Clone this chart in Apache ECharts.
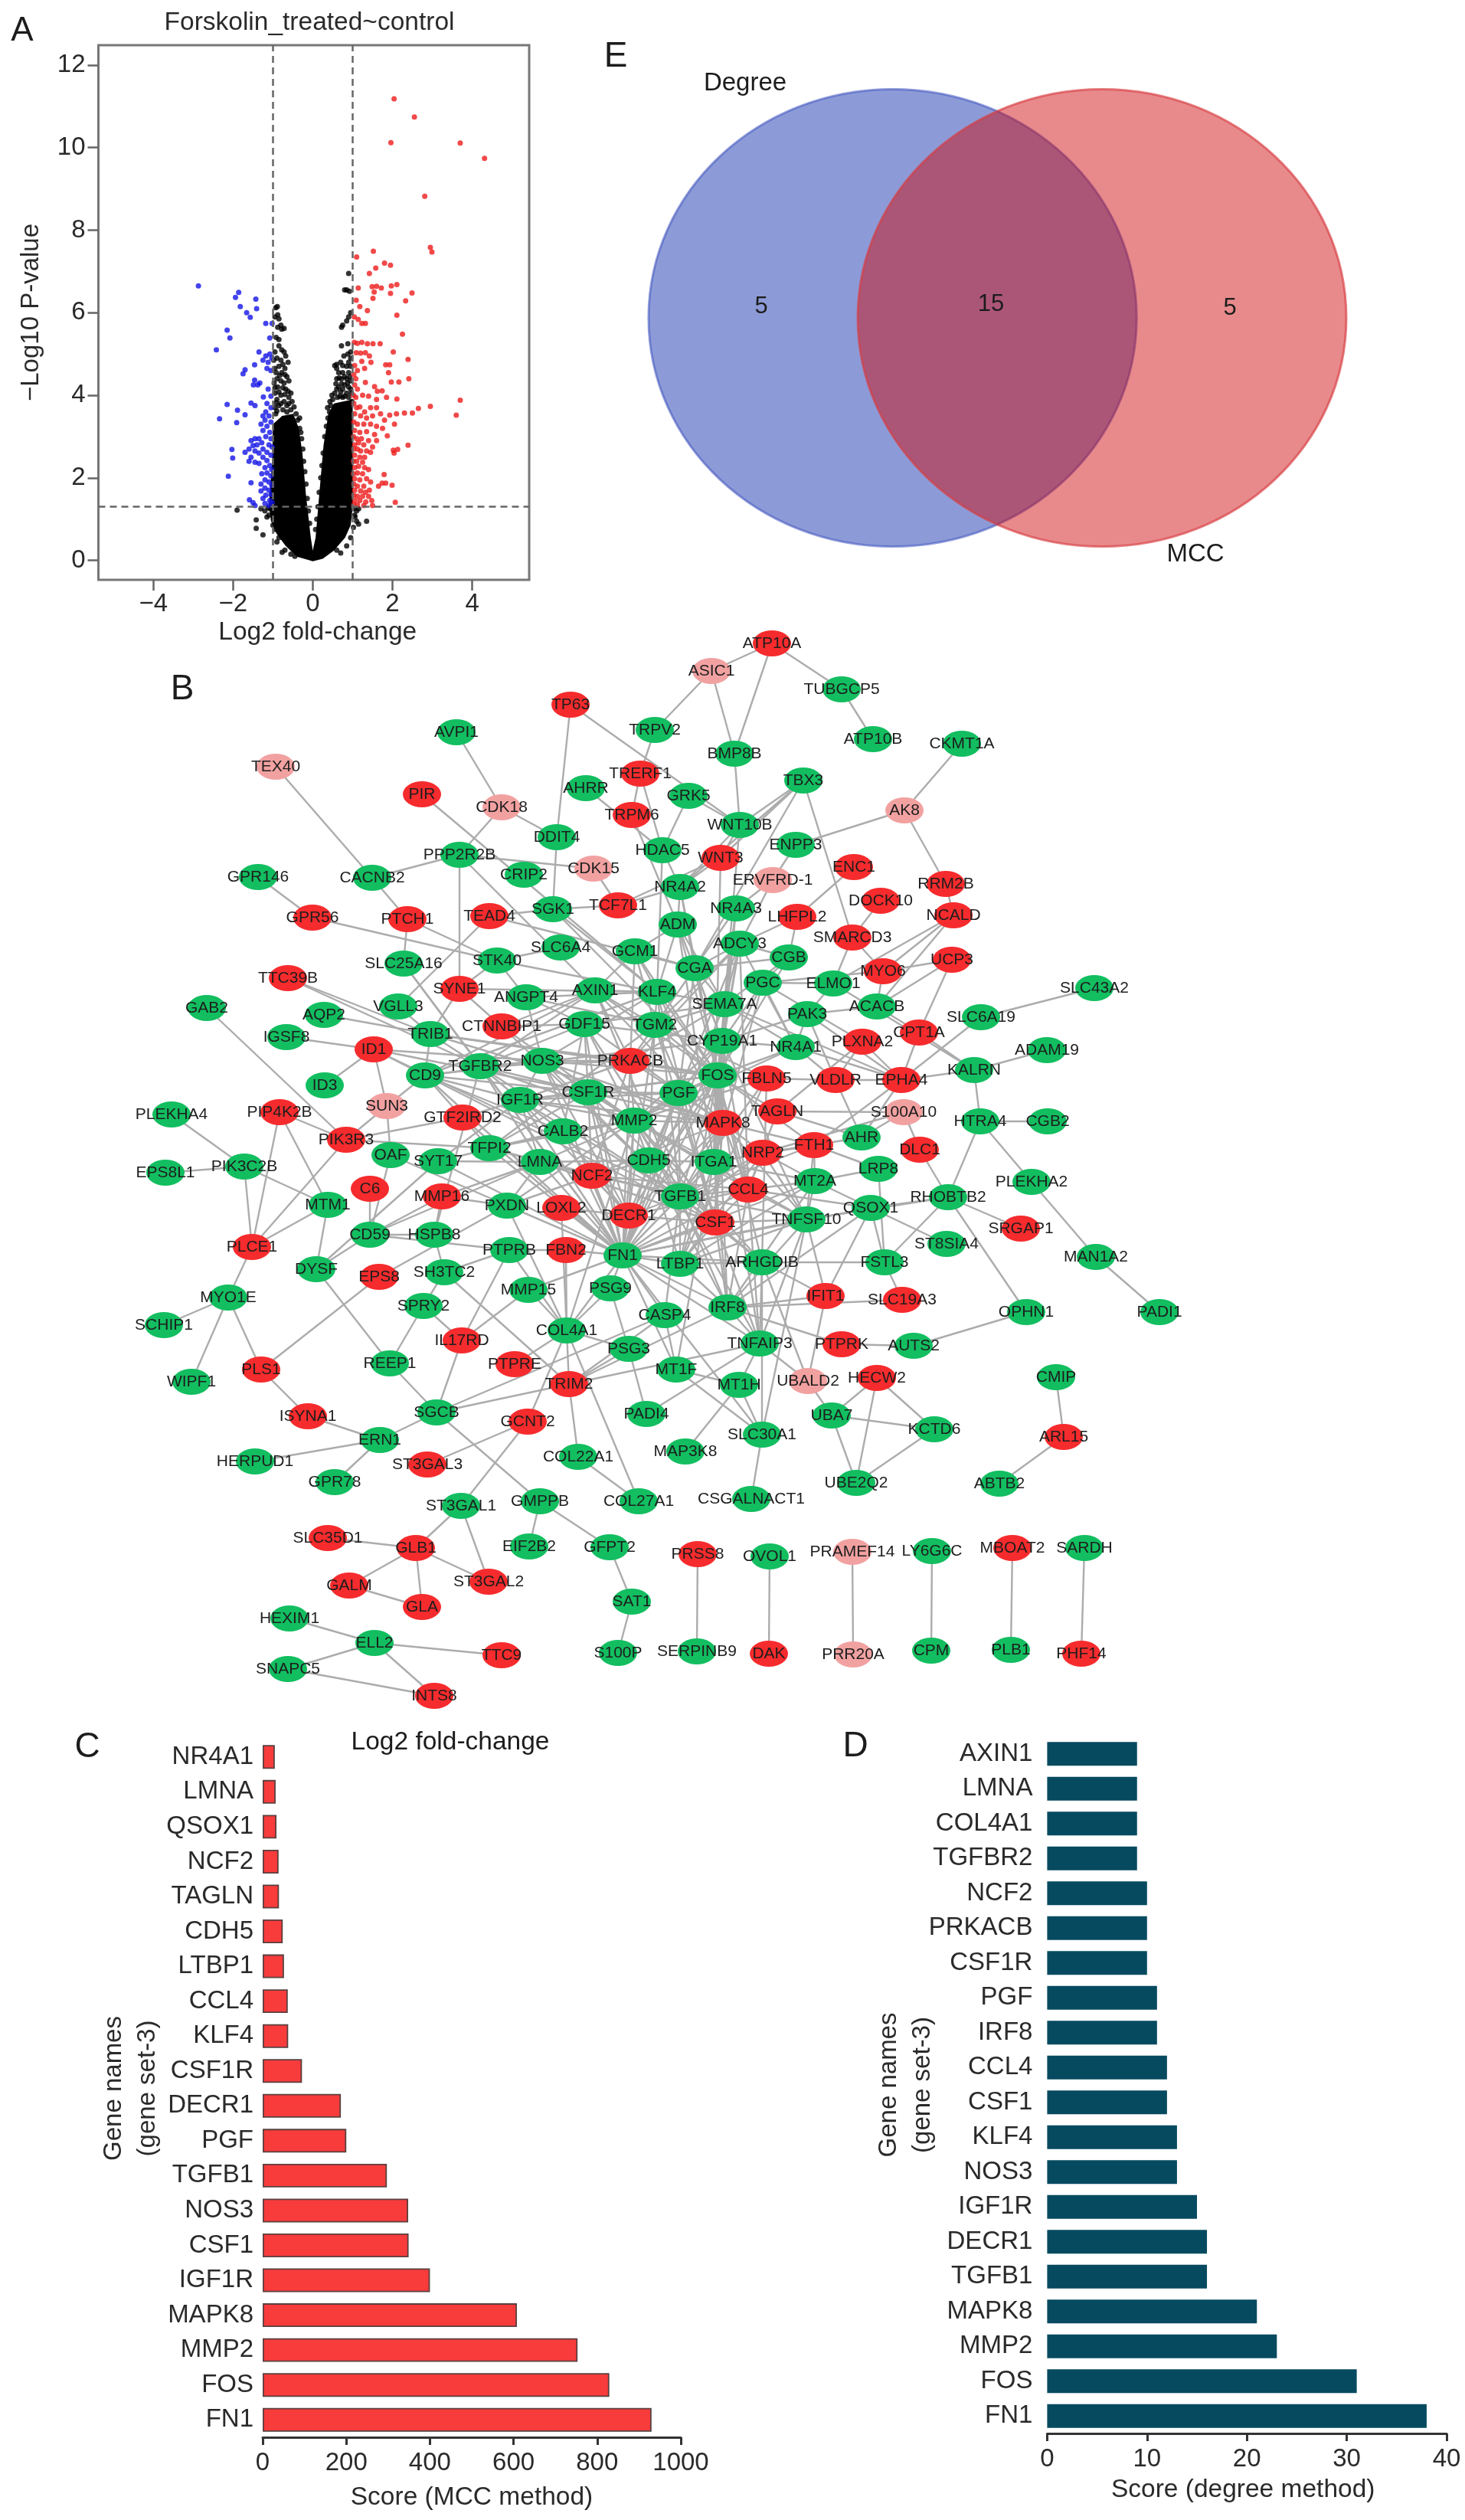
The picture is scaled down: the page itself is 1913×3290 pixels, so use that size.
<!DOCTYPE html>
<html><head><meta charset="utf-8">
<style>html,body{margin:0;padding:0;background:#fff}#c{width:1913px;height:3290px}</style>
<script src="https://cdn.jsdelivr.net/npm/echarts@6/dist/echarts.min.js"></script></head>
<body><div id="c"></div>
<script>
// ---------- Panel A: volcano plot ----------
const volcanoTitle = 'Forskolin_treated~control';
const foldCut = 1, pCut = 1.3;
const redPoints = [[2.04,11.18],[2.55,10.74],[1.96,10.12],[3.70,10.11],[4.31,9.74],[2.81,8.82],[2.95,7.58],[2.99,7.47],[1.52,7.49],[1.10,7.35],[1.58,7.08],[1.80,7.2],[1.95,7.15],[1.42,6.95],[1.14,6.6],[1.49,6.63],[1.6,6.64],[1.72,6.6],[1.54,6.5],[1.97,6.65],[2.11,6.68],[1.95,6.47],[2.49,6.48],[2.33,6.29],[1.51,6.35],[1.09,6.3],[1.18,6.15],[1.37,6.05],[2.11,5.94],[1.04,5.9],[1.14,5.84],[1.32,5.74],[1.23,5.74],[2.25,5.48],[1.04,5.28],[1.12,5.26],[1.23,5.28],[1.37,5.25],[1.51,5.25],[1.69,5.25],[1.09,5.03],[1.2,5.02],[1.32,5.03],[1.42,4.95],[2.02,5.05],[2.39,4.87],[1.23,4.82],[1.46,4.8],[1.83,4.74],[1.93,4.74],[1.05,4.72],[1.12,4.6],[1.3,4.65],[1.9,4.55],[1.03,4.5],[1.08,4.4],[2.41,4.4],[1.97,4.32],[2.16,4.32],[1.32,4.31],[1.05,4.25],[1.12,4.15],[1.55,4.21],[1.62,4.1],[1.74,4.11],[1.02,4.0],[1.08,3.95],[1.25,4.0],[1.4,3.98],[1.6,3.9],[1.85,3.95],[2.11,3.91],[3.70,3.88],[2.95,3.73],[3.6,3.52],[2.65,3.68],[2.50,3.57],[2.30,3.57],[2.10,3.55],[1.93,3.52],[1.03,3.8],[1.1,3.7],[1.18,3.72],[1.3,3.6],[1.45,3.7],[1.6,3.7],[1.05,3.55],[1.2,3.5],[1.35,3.45],[1.5,3.5],[1.7,3.55],[1.8,3.4],[1.03,3.35],[1.12,3.3],[1.28,3.3],[1.45,3.3],[1.6,3.25],[1.75,3.2],[2.05,3.3],[1.05,3.15],[1.18,3.1],[1.35,3.12],[1.55,3.05],[1.87,3.02],[1.02,3.0],[1.1,2.95],[1.22,2.95],[1.4,2.9],[1.6,2.9],[1.05,2.8],[1.15,2.85],[1.28,2.8],[1.5,2.75],[2.39,2.79],[1.03,2.7],[1.12,2.7],[1.2,2.65],[1.35,2.65],[1.45,2.62],[2.02,2.67],[2.13,2.69],[2.04,2.6],[1.05,2.55],[1.18,2.5],[1.3,2.5],[1.02,2.4],[1.1,2.4],[1.25,2.38],[1.05,2.25],[1.15,2.28],[1.3,2.25],[1.4,2.2],[1.02,2.1],[1.12,2.12],[1.25,2.1],[1.79,2.08],[1.05,1.98],[1.18,1.95],[1.35,1.98],[1.45,1.9],[1.74,1.87],[1.65,1.8],[1.83,1.87],[1.99,1.82],[1.03,1.85],[1.12,1.8],[1.28,1.8],[1.05,1.7],[1.2,1.68],[1.32,1.65],[1.42,1.7],[1.03,1.58],[1.12,1.55],[1.25,1.55],[1.4,1.55],[1.05,1.45],[1.18,1.45],[1.33,1.42],[1.48,1.45],[2.07,1.41],[1.03,1.35],[1.12,1.35],[1.28,1.33],[1.5,1.33]];
const bluePoints = [[-2.87,6.65],[-1.86,6.49],[-1.94,6.37],[-1.43,6.33],[-1.82,6.15],[-1.41,6.1],[-1.66,6.0],[-1.57,5.89],[-1.18,5.74],[-1.02,5.74],[-2.15,5.58],[-2.08,5.39],[-1.08,5.39],[-2.42,5.1],[-1.35,5.05],[-1.18,4.95],[-1.08,5.0],[-1.03,4.9],[-1.25,4.85],[-1.46,4.74],[-1.12,4.8],[-1.70,4.62],[-1.75,4.52],[-1.05,4.6],[-1.15,4.65],[-1.46,4.37],[-1.33,4.3],[-1.49,4.25],[-1.12,4.15],[-1.38,4.25],[-1.24,3.96],[-1.05,3.98],[-1.55,3.81],[-1.45,3.75],[-2.15,3.78],[-1.15,3.8],[-1.89,3.64],[-1.05,3.7],[-1.70,3.53],[-1.18,3.6],[-2.34,3.43],[-1.91,3.34],[-1.25,3.5],[-1.1,3.5],[-1.2,3.4],[-1.05,3.35],[-1.3,3.3],[-1.15,3.25],[-1.25,3.15],[-1.08,3.1],[-1.18,3.0],[-1.05,2.95],[-1.45,2.95],[-1.55,2.9],[-1.35,2.95],[-1.28,2.85],[-1.4,2.8],[-1.5,2.78],[-1.1,2.8],[-1.02,2.75],[-1.6,2.7],[-2.03,2.69],[-1.25,2.7],[-1.45,2.65],[-1.7,2.62],[-1.15,2.62],[-1.35,2.6],[-1.05,2.55],[-2.01,2.48],[-1.55,2.5],[-1.25,2.5],[-1.15,2.42],[-1.45,2.38],[-1.6,2.4],[-1.35,2.35],[-1.08,2.3],[-1.2,2.25],[-1.03,2.2],[-1.15,2.12],[-2.12,2.04],[-1.28,2.1],[-1.05,2.05],[-1.2,1.95],[-1.1,1.9],[-1.55,1.88],[-1.3,1.85],[-1.03,1.82],[-1.2,1.75],[-1.1,1.7],[-1.3,1.68],[-1.05,1.6],[-1.18,1.58],[-1.25,1.5],[-1.59,1.47],[-1.08,1.45],[-1.5,1.4],[-1.2,1.38],[-1.45,1.33],[-1.1,1.33],[-1.02,1.4]];
const blackPoints = [[-.89,6.15],[-.93,6.12],[-.88,5.95],[-.95,5.9],[-.85,5.85],[-.8,5.7],[-.72,5.62],[-.78,5.6],[-.88,5.65],[-.92,5.4],[-.85,5.35],[-.85,5.2],[-.78,5.1],[-.72,5.05],[-.95,5.05],[-.68,4.95],[-.62,4.8],[-.9,4.9],[-.8,4.85],[-.7,4.65],[-.95,4.65],[-.85,4.7],[-.78,4.55],[-.65,4.45],[-.9,4.4],[-.8,4.35],[-.72,4.3],[-.6,4.35],[-.97,4.3],[-.88,4.2],[-.68,4.15],[-.55,4.05],[-.95,4.05],[-.8,4.0],[-.6,3.95],[-.9,3.9],[-.72,3.85],[-.52,3.85],[-.85,3.75],[-.65,3.75],[-.95,3.7],[-.75,3.65],[-.55,3.65],[-.42,3.55],[-.93,3.55],[-.38,3.4],[-.33,3.2],[.9,6.95],[.85,6.55],[.8,6.55],[.92,6.52],[.95,6.0],[.9,5.9],[.85,5.8],[.72,5.65],[.75,5.7],[.88,5.25],[.72,5.2],[.95,5.05],[.88,5.0],[.78,4.95],[.95,4.9],[.7,4.8],[.55,4.72],[.6,4.65],[.85,4.7],[.95,4.7],[.65,4.55],[.75,4.55],[.9,4.55],[.6,4.4],[.72,4.4],[.85,4.4],[.95,4.35],[.65,4.2],[.8,4.25],[.9,4.2],[.55,4.05],[.7,4.08],[.85,4.05],[.97,4.05],[.5,3.9],[.62,3.95],[.75,3.95],[.9,3.95],[.45,3.75],[.55,3.7],[.42,3.6],[-1.9,1.22],[-1.42,.98],[-1.42,.78],[-1.25,.62],[-.77,.2],[.6,.25],[1.1,.95],[1.15,.88],[1.35,.95],[1.1,1.2],[1.15,1.25],[-1.3,1.25],[-1.2,1.2],[-1.1,1.1],[-1.15,1.05],[-1.0,.85],[-.95,.75],[-.85,.55],[-.9,.45],[-.7,.25],[-.55,.15],[.85,.35],[.95,.55],[1.02,.8],[.7,.18],[1.05,1.1],[-.45,.1],
[-.98,4.85],[-.75,4.75],[-.92,4.55],[-.83,4.48],[-.7,4.5],[-.95,4.18],[-.75,4.18],[-.62,4.1],[-.85,4.08],[-.7,4.02],[-.92,3.82],[-.8,3.8],[-.6,3.8],[-.47,3.72],[-.9,3.62],[-.65,3.6],[-.33,3.45],[-.3,3.1],[-.28,2.95],[-.25,2.7],[-.23,2.4],[-.2,2.15],[-.17,1.85],[-.14,1.5],[-.11,1.2],[-.08,.9],
[.6,4.75],[.75,4.72],[.9,4.8],[.66,4.42],[.8,4.45],[.93,4.45],[.58,4.28],[.72,4.28],[.87,4.3],[.6,4.15],[.75,4.15],[.95,4.15],[.48,4.0],[.68,3.98],[.8,3.98],[.43,3.85],[.98,3.85],[.38,3.45],[.34,3.25],[.3,3.0],[.26,2.6],[.23,2.3],[.2,2.0],[.16,1.65],[.13,1.3],[.1,1.0],[.07,.75],[.37,3.7],[-1.07,1.25],[-1.12,1.28],[1.03,1.25],[1.06,1.05]];
const blackMassOutline = [[0,-.02],[-.40,.09],[-.68,.35],[-.91,.65],[-1.05,.96],[-1.10,1.36],[-1.02,2.38],[-1.0,3.3],[-.77,3.5],[-.49,3.55],[-.35,3.2],[-.26,2.59],[-.17,1.57],[-.05,.55],[0,.24],[.07,.55],[.16,1.57],[.27,2.79],[.39,3.55],[.53,3.8],[1.0,3.9],[1.01,1.36],[.95,.85],[.81,.55],[.53,.24],[.25,.04]];

// ---------- Panel C ----------
const mccGenes = ['NR4A1','LMNA','QSOX1','NCF2','TAGLN','CDH5','LTBP1','CCL4','KLF4','CSF1R','DECR1','PGF','TGFB1','NOS3','CSF1','IGF1R','MAPK8','MMP2','FOS','FN1'];
const mccScores = [29,31,33,38,39,48,51,60,61,94,187,200,297,348,349,400,608,753,829,930];
// ---------- Panel D ----------
const degreeGenes = ['AXIN1','LMNA','COL4A1','TGFBR2','NCF2','PRKACB','CSF1R','PGF','IRF8','CCL4','CSF1','KLF4','NOS3','IGF1R','DECR1','TGFB1','MAPK8','MMP2','FOS','FN1'];
const degreeScores = [9,9,9,9,10,10,10,11,11,12,12,13,13,15,16,16,21,23,31,38];
// ---------- Panel E ----------
const vennCounts = [5,15,5];
const vennSets = ['Degree','MCC'];

// ---------- Panel B: network (name, regulation, layout x, layout y) ----------
const networkNodes = [
['TP63','r',745,920],['ASIC1','p',929,876],['AVPI1','g',596,956],['TRPV2','g',855,953],['BMP8B','g',959,984],['TEX40','p',360,1001],['TRERF1','r',836,1010],['AHRR','g',765,1029],['GRK5','g',899,1039],['PIR','r',551,1037],['CDK18','p',655,1054],['TRPM6','r',825,1064],['WNT10B','g',966,1077],['DDIT4','g',727,1093],['HDAC5','g',865,1110],['PPP2R2B','g',600,1116],['WNT3','r',941,1120],['CDK15','p',775,1134],['CRIP2','g',684,1142],['GPR146','g',337,1145],['CACNB2','g',486,1146],['NR4A2','g',888,1158],['ERVFRD-1','p',1009,1149],['NR4A3','g',961,1186],['SGK1','g',722,1187],['TCF7L1','r',807,1182],['TEAD4','r',639,1196],['PTCH1','r',532,1200],['GPR56','r',408,1198],['ADM','g',885,1207],['ADCY3','g',966,1232],['SLC6A4','g',732,1237],['GCM1','g',829,1242],['STK40','g',649,1254],['SLC25A16','g',527,1258],['CGA','g',907,1264],['TTC39B','r',376,1277],['SYNE1','r',600,1291],['ANGPT4','g',687,1302],['AXIN1','g',777,1293],['KLF4','g',858,1295],['GAB2','g',270,1316],['AQP2','g',423,1325],['VGLL3','g',520,1314],['TRIB1','g',562,1350],['CTNNBIP1','r',655,1340],['GDF15','g',763,1337],['TGM2','g',855,1338],['IGSF8','g',374,1354],['ID1','r',488,1370],['NOS3','g',708,1385],['TGFBR2','g',627,1392],['CD9','g',555,1404],['PRKACB','r',823,1385],['CSF1R','g',768,1426],['IGF1R','g',679,1436],['ID3','g',424,1417],['SUN3','p',505,1444],['GTF2IRD2','r',604,1459],['PLEKHA4','g',224,1455],['PIP4K2B','r',365,1452],['PIK3R3','r',452,1488],['OAF','g',510,1508],['TFPI2','g',639,1499],['CALB2','g',735,1477],['MMP2','g',828,1463],['SYT17','g',572,1516],['LMNA','g',705,1517],['CDH5','g',847,1515],['NCF2','r',773,1535],['PIK3C2B','g',319,1523],['EPS8L1','g',216,1531],['C6','r',483,1552],['MTM1','g',428,1573],['MMP16','r',577,1562],['PXDN','g',662,1574],['LOXL2','r',733,1577],['DECR1','r',821,1587],['CD59','g',483,1612],['HSPB8','g',567,1612],['PLCE1','r',329,1628],['PTPRB','g',665,1632],['FBN2','r',739,1632],['FN1','g',813,1639],['LTBP1','g',888,1650],['ARHGDIB','g',995,1648],['FSTL3','g',1155,1648],['DYSF','g',413,1657],['EPS8','r',495,1667],['SH3TC2','g',580,1661],['MMP15','g',690,1684],['PSG9','g',797,1682],['MYO1E','g',298,1694],['SPRY2','g',553,1705],['CASP4','g',868,1717],['IRF8','g',950,1707],['IFIT1','r',1078,1692],['SLC19A3','r',1178,1697],['SCHIP1','g',214,1730],['COL4A1','g',740,1737],['IL17RD','r',603,1750],['PSG3','g',821,1761],['TNFAIP3','g',992,1754],['PTPRK','r',1099,1755],['AUTS2','g',1193,1757],['REEP1','g',509,1780],['PTPRE','r',672,1781],['MT1F','g',883,1788],['MT1H','g',965,1808],['UBALD2','p',1055,1803],['HECW2','r',1145,1799],['WIPF1','g',250,1804],['PLS1','r',341,1788],['TRIM2','r',743,1807],['SGCB','g',570,1844],['PADI4','g',844,1846],['GCNT2','r',689,1856],['ISYNA1','r',402,1849],['UBA7','g',1086,1848],['SLC30A1','g',995,1873],['KCTD6','g',1220,1866],['ERN1','g',496,1880],['MAP3K8','g',895,1895],['HERPUD1','g',333,1908],['ST3GAL3','r',558,1912],['COL22A1','g',755,1902],['GPR78','g',437,1935],['UBE2Q2','g',1118,1936],['ABTB2','g',1305,1937],['COL27A1','g',834,1960],['GMPPB','g',705,1960],['ST3GAL1','g',602,1966],['CSGALNACT1','g',981,1957],['ARL15','r',1389,1876],['CMIP','g',1379,1798],['OPHN1','g',1340,1713],['PADI1','g',1514,1713],['MAN1A2','g',1431,1641],['SRGAP1','r',1333,1604],['PLEKHA2','g',1347,1543],['ST8SIA4','g',1236,1624],['RHOBTB2','g',1238,1563],['QSOX1','g',1137,1577],['TNFSF10','g',1053,1592],['MT2A','g',1064,1542],['LRP8','g',1147,1526],['DLC1','r',1201,1501],['AHR','g',1125,1485],['FTH1','r',1063,1495],['NRP2','r',996,1505],['ITGA1','g',932,1517],['TGFB1','g',888,1562],['CCL4','r',977,1553],['CSF1','r',934,1596],['MAPK8','r',944,1466],['PGF','g',886,1427],['FOS','g',937,1404],['FBLN5','r',1001,1408],['VLDLR','r',1091,1410],['EPHA4','r',1177,1410],['TAGLN','r',1015,1451],['S100A10','p',1180,1452],['NR4A1','g',1039,1367],['PLXNA2','r',1126,1360],['CPT1A','r',1200,1348],['CYP19A1','g',943,1359],['SEMA7A','g',946,1311],['PAK3','g',1054,1324],['ACACB','g',1145,1314],['PGC','g',996,1283],['ELMO1','g',1088,1284],['CGB','g',1030,1250],['MYO6','r',1153,1268],['UCP3','r',1243,1253],['SMARCD3','r',1113,1224],['NCALD','r',1245,1195],['LHFPL2','r',1041,1197],['DOCK10','r',1150,1176],['ENC1','r',1115,1132],['RRM2B','r',1235,1154],['ENPP3','g',1039,1103],['AK8','p',1181,1058],['TBX3','g',1049,1019],['ATP10B','g',1140,965],['CKMT1A','g',1256,971],['TUBGCP5','g',1099,900],['ATP10A','r',1008,840],['SLC43A2','g',1429,1290],['SLC6A19','g',1281,1328],['ADAM19','g',1367,1371],['KALRN','g',1272,1397],['HTRA4','g',1280,1464],['CGB2','g',1368,1464],['SLC35D1','r',428,2008],['GLB1','r',543,2021],['EIF2B2','g',691,2019],['GFPT2','g',796,2020],['PRSS8','r',911,2029],['ST3GAL2','r',638,2065],['GALM','r',456,2070],['GLA','r',551,2098],['SAT1','g',825,2091],['HEXIM1','g',378,2113],['ELL2','g',489,2145],['TTC9','r',655,2161],['S100P','g',807,2158],['SERPINB9','g',910,2156],['SNAPC5','g',376,2179],['INTS8','r',567,2214],['OVOL1','g',1005,2032],['PRAMEF14','p',1113,2026],['LY6G6C','g',1217,2025],['MBOAT2','r',1322,2021],['SARDH','g',1416,2021],['DAK','r',1004,2159],['PRR20A','p',1114,2160],['CPM','g',1216,2155],['PLB1','g',1320,2154],['PHF14','r',1412,2159]];
// adjacency: each gene with the genes its lines run to
const networkEdges = [
['TEX40','CACNB2'],['TP63','DDIT4 WNT10B'],['ASIC1','TRPV2 BMP8B ATP10A'],['TRPV2','TRERF1'],['ATP10A','BMP8B TUBGCP5'],['TUBGCP5','ATP10B'],['CKMT1A','AK8'],['AK8','ENPP3 RRM2B'],['RRM2B','NCALD'],['BMP8B','WNT10B'],['AVPI1','CDK18'],['CDK18','PPP2R2B DDIT4'],['DDIT4','SGK1'],['PIR','KLF4'],['PPP2R2B','CACNB2 CDK15 SYNE1 AXIN1'],['CDK15','TCF7L1'],['GPR146','GPR56'],['GPR56','STK40'],['CACNB2','PTCH1'],['PTCH1','SLC25A16 STK40'],['TEAD4','VGLL3 SGK1 CGA'],['SGK1','TCF7L1 KLF4 FOS'],['STK40','SLC6A4 SYNE1 KLF4'],['AHRR','HDAC5'],['TRERF1','TRPM6 HDAC5'],['GRK5','HDAC5 WNT10B'],['TRPM6','ADM'],['HDAC5','NR4A2 KLF4'],['WNT10B','NR4A2 WNT3 TBX3 SEMA7A'],['WNT3','NR4A2 TCF7L1 TBX3 ITGA1'],['NR4A2','TBX3 TCF7L1 FOS ADM'],['TBX3','SMARCD3 CGA'],['ENPP3','ERVFRD-1'],['ERVFRD-1','NR4A3 ADCY3'],['ENC1','LHFPL2'],['LHFPL2','CGB ADCY3'],['DOCK10','SMARCD3'],['SMARCD3','ELMO1 MYO6'],['NCALD','ELMO1 MYO6 ACACB'],['MYO6','UCP3 PGC ACACB'],['UCP3','CPT1A ACACB'],['CGB','ADCY3 CGA PGC FOS'],['ACACB','CPT1A PAK3'],['ELMO1','PAK3 PGC KALRN'],['PLXNA2','VLDLR EPHA4 PGC TAGLN'],['CPT1A','EPHA4 KALRN'],['SLC43A2','SLC6A19'],['SLC6A19','EPHA4'],['KALRN','ADAM19 EPHA4 HTRA4'],['HTRA4','CGB2 RHOBTB2 PLEKHA2'],['PLEKHA2','MAN1A2'],['MAN1A2','PADI1'],['RHOBTB2','OPHN1 SRGAP1 DLC1 QSOX1 FSTL3 TNFSF10'],['OPHN1','AUTS2'],['AUTS2','PTPRK'],['CMIP','ARL15'],['ARL15','ABTB2'],['HECW2','UBA7 UBE2Q2 KCTD6'],['UBA7','KCTD6 UBE2Q2'],['KCTD6','UBE2Q2'],['UBALD2','UBA7 IFIT1 TNFAIP3 ARHGDIB'],['SLC30A1','CSGALNACT1 ARHGDIB TNFSF10'],['MT1F','MT1H SLC30A1 ITGA1'],['MT1H','SLC30A1 MAP3K8 TNFAIP3'],['TNFAIP3','IRF8 ARHGDIB TNFSF10 CCL4 CSF1 FOS MMP2 PADI4 SGCB'],['IFIT1','IRF8 QSOX1 ARHGDIB TNFSF10'],['SLC19A3','IRF8 FSTL3'],['PTPRK','IRF8'],['ARHGDIB','FSTL3 FOS MMP2 TGFB1 FN1'],['ST8SIA4','QSOX1'],['QSOX1','FSTL3 MT2A CCL4 IRF8'],['LRP8','FSTL3 FTH1 MT2A'],['AHR','FTH1 VLDLR EPHA4 S100A10 TAGLN'],['S100A10','DLC1 NRP2'],['TAGLN','S100A10 FOS CCL4'],['VLDLR','FBLN5 NR4A1 EPHA4'],['EPHA4','NR4A1 PAK3 SEMA7A FTH1'],['FTH1','MT2A NRP2 MAPK8'],['NR4A1','FOS MMP2 PAK3 SEMA7A CYP19A1'],['PAK3','CYP19A1 VLDLR'],['GAB2','PIK3R3'],['ID1','IGSF8 ID3 SUN3 CD9 NOS3 CSF1R TGFB1'],['AQP2','TRIB1'],['VGLL3','TRIB1'],['SYNE1','TRIB1 CTNNBIP1 KLF4'],['TRIB1','CD9 MAPK8 PRKACB FOS TGFBR2'],['SLC25A16','TGFBR2 FN1'],['TTC39B','TGFBR2 TRIB1'],['CTNNBIP1','AXIN1 TGFB1'],['SUN3','PIK3R3 CD9 OAF'],['PLEKHA4','PIK3C2B'],['EPS8L1','PIK3C2B'],['PIP4K2B','PIK3R3 PLCE1 MTM1'],['PIK3C2B','MTM1 PLCE1'],['PIK3R3','PLCE1 GTF2IRD2 TFPI2'],['MTM1','DYSF PLCE1'],['PLCE1','MYO1E'],['MYO1E','SCHIP1 WIPF1 PLS1'],['PLS1','EPS8 ISYNA1'],['ISYNA1','ERN1'],['ERN1','SGCB HERPUD1 GPR78'],['DYSF','CD59 REEP1 SYT17'],['REEP1','SGCB SPRY2'],['SPRY2','IL17RD SH3TC2'],['IL17RD','SGCB PTPRB MMP15'],['SH3TC2','HSPB8 TRIM2 PTPRB'],['EPS8','PXDN'],['C6','CD59'],['OAF','CD59 FN1'],['CD59','MMP16 HSPB8 LMNA PTPRB'],['MMP16','HSPB8 PXDN LMNA'],['HSPB8','TGFBR2'],['PTPRB','FBN2 COL4A1'],['FBN2','FN1 COL4A1'],['PXDN','COL4A1 FN1 MMP2'],['LOXL2','COL4A1 FN1'],['MMP15','FN1 COL4A1'],['PSG9','COL4A1 FN1 PSG3'],['PSG3','TRIM2 COL4A1 PADI4'],['PTPRE','COL4A1'],['COL4A1','TRIM2 GCNT2 COL27A1 FN1 MMP2'],['TRIM2','COL22A1 CASP4 PSG3 IRF8'],['COL22A1','COL27A1'],['SGCB','CASP4 GMPPB'],['GCNT2','ST3GAL3 ST3GAL1'],['GMPPB','EIF2B2 GFPT2'],['ST3GAL1','GLB1 ST3GAL2'],['SLC35D1','GLB1'],['GLB1','ST3GAL2 GALM GLA'],['GALM','GLA'],['GFPT2','SAT1'],['SAT1','S100P'],['PRSS8','SERPINB9'],['OVOL1','DAK'],['PRAMEF14','PRR20A'],['LY6G6C','CPM'],['MBOAT2','PLB1'],['SARDH','PHF14'],['HEXIM1','ELL2'],['ELL2','SNAPC5 TTC9 INTS8'],['SNAPC5','INTS8'],['PADI4','TNFAIP3'],['CASP4','FN1 MT1F TGFB1'],
['FN1','FOS MMP2 MAPK8 TGFB1 DECR1 IGF1R NOS3 CSF1 CCL4 IRF8 PGF CSF1R NCF2 TGFBR2 LMNA CDH5 LTBP1 ITGA1 CALB2 TNFSF10 QSOX1 PRKACB CYP19A1 SEMA7A TGM2 GDF15 TFPI2 MT1F SLC30A1 MT2A NRP2 TNFAIP3 GTF2IRD2 SYT17 CD9'],
['FOS','MMP2 MAPK8 TGFB1 DECR1 IGF1R NOS3 KLF4 CSF1 CCL4 IRF8 PGF CSF1R PRKACB CGA ADCY3 NR4A3 AXIN1 TGM2 ITGA1 CDH5 CYP19A1 SEMA7A ADM GCM1 TRIB1 LTBP1 PGC'],
['MMP2','MAPK8 TGFB1 DECR1 IGF1R NOS3 CSF1 PGF CSF1R TGFBR2 ITGA1 CDH5 LMNA TNFSF10 CALB2 PRKACB FBLN5 CCL4 CYP19A1 TFPI2 GDF15'],
['MAPK8','IGF1R DECR1 TGFB1 NOS3 KLF4 AXIN1 PRKACB CCL4 CSF1 TNFSF10 NCF2 GDF15 CSF1R ITGA1 NRP2 SEMA7A'],
['TGFB1','DECR1 IGF1R NOS3 TGFBR2 LTBP1 CCL4 CSF1 LMNA KLF4 AXIN1 ITGA1 IRF8 PGF TFPI2'],
['DECR1','IGF1R NOS3 CSF1 CCL4 CALB2 PGF NCF2 CSF1R LOXL2'],
['IGF1R','NOS3 CSF1R TGFBR2 GTF2IRD2 LMNA CD9 PGF CALB2 PRKACB'],
['NOS3','KLF4 CSF1R TGFBR2 ANGPT4 CD9 PRKACB'],
['KLF4','CD9 ADM SEMA7A TGM2 GCM1 AXIN1 ANGPT4 CSF1'],
['CSF1','CCL4 IRF8 CSF1R TNFSF10 PGF LTBP1 LMNA'],
['CCL4','TNFSF10 NCF2 IRF8 MT2A ITGA1 NRP2'],
['IRF8','TNFSF10 ITGA1 LTBP1 CDH5 MT2A'],
['PGF','CGA CSF1R CDH5 ADCY3 CYP19A1'],
['CSF1R','TGFBR2 NCF2 GDF15 CD9'],
['PRKACB','TGFBR2 AXIN1 ADCY3 CGA GCM1 SEMA7A NCF2'],
['NCF2','LMNA CDH5 TNFSF10 PXDN'],
['TGFBR2','LMNA AXIN1 GDF15'],
['AXIN1','CD9 TGM2 GCM1'],
['LMNA','PXDN TFPI2 CDH5 SYT17'],
['CGA','ADCY3 GCM1 NR4A3 NR4A2 SEMA7A CYP19A1'],
['SEMA7A','TGM2 CYP19A1 ADCY3 CGB GDF15'],
['ANGPT4','STK40 GDF15 TGM2'],
['GCM1','ADM TGM2'],
['ITGA1','MT2A CDH5 LTBP1'],
['MT2A','TNFSF10 LTBP1'],
['CD9','CSF1 TFPI2 CALB2 CYP19A1'],
['CTNNBIP1','GDF15 MMP2'],
['TFPI2','CSF1R CALB2 TGM2'],
['SYT17','CALB2 IGF1R'],
['GDF15','CALB2 CYP19A1 CSF1'],
['TGM2','CSF1 CDH5 ITGA1 FBLN5'],
['ADCY3','CYP19A1 TGM2 NR4A1 CCL4'],
['ADM','CYP19A1 ITGA1 SEMA7A'],
['CYP19A1','CSF1 ITGA1 CCL4 TNFSF10'],
['FBLN5','LTBP1 ARHGDIB TGFB1'],
['PGC','CYP19A1 ITGA1 NR4A1'],
['NR4A3','SEMA7A ITGA1'],
['CSF1','ARHGDIB TNFSF10 LMNA'],
['LTBP1','ARHGDIB TNFSF10 CDH5'],
['FTH1','FOS TNFSF10 ITGA1 TGFB1'],
['NRP2','TGFB1 MT2A TNFSF10 LTBP1']];

const PALETTE = {r:'#F62B2D', g:'#12BE60', p:'#F2A1A1'};
const FONT = '"Liberation Sans", Arial, sans-serif';
const nodeNames = new Set(networkNodes.map(n => n[0]));
const graphNodes = networkNodes.map(n => ({name:n[0], value:[n[2], n[3]], itemStyle:{color:PALETTE[n[1]]}}));
const graphLinks = [];
const seenLinks = new Set();
networkEdges.forEach(([a, list]) => list.split(' ').forEach(b => {
  const key = [a, b].sort().join('|');
  if (nodeNames.has(a) && nodeNames.has(b) && !seenLinks.has(key)) { seenLinks.add(key); graphLinks.push({source:a, target:b}); }
}));
const ELLIPSE = 'path://M0 -100A100 100 0 1 1 0 100A100 100 0 1 1 0 -100Z';

const txt = (text, x, y, size) => ({type:'text', x, y, z:50, style:{text, font:size+'px '+FONT, fill:'#1c1c1c', align:'center', verticalAlign:'middle'}});

function barPanel(gridIndex, max, interval, genes, nameText, labelMargin, nameGapX, nameGapY, namePadding){
  return {
    x:{type:'value', gridIndex, min:0, max, interval, name:nameText, nameLocation:'middle', nameGap:nameGapX, nameMoveOverlap:false,
       nameTextStyle:{color:'#2a2a2a', fontSize:33.5, fontFamily:FONT, padding:namePadding},
       axisLine:{show:true, onZero:false, lineStyle:{color:'#333', width:3}},
       axisTick:{show:true, length:10, lineStyle:{color:'#333', width:3}},
       axisLabel:{fontSize:33, fontFamily:FONT, color:'#2a2a2a', margin:17, hideOverlap:false, formatter:v => String(v)},
       splitLine:{show:false}},
    y:{type:'category', gridIndex, data:genes, inverse:true, name:'Gene names\n(gene set-3)', nameLocation:'middle', nameGap:nameGapY, nameRotate:90, nameMoveOverlap:false,
       nameTextStyle:{fontSize:33, fontFamily:FONT, color:'#2a2a2a', lineHeight:44},
       axisLine:{show:false}, axisTick:{show:false},
       axisLabel:{fontSize:33, fontFamily:FONT, color:'#2a2a2a', margin:labelMargin, interval:0}}
  };
}
const barC = barPanel(1, 1000, 200, mccGenes, 'Score (MCC method)', 12, 62, 128, [0,0,0,0]);
const barD = barPanel(2, 40, 10, degreeGenes, 'Score (degree method)', 19, 57, 140, [0,10,0,0]);

const minusFmt = v => String(v).replace('-', '\u2212');
const option = {
  animation:false,
  backgroundColor:'#fff',
  title:[{text:volcanoTitle, left:399, top:8, textAlign:'center', textStyle:{fontSize:33.5, fontWeight:'normal', fontFamily:FONT, color:'#2a2a2a'}}],
  grid:[
    {left:128.5, top:59, width:562.5, height:698, show:true, borderColor:'#777', borderWidth:3, backgroundColor:'#fff'},
    {left:343, top:2271, width:546, height:911},
    {left:1367.4, top:2267, width:521.6, height:910},
    {left:0, top:0, width:1913, height:3290}
  ],
  xAxis:[
    {type:'value', gridIndex:0, min:-5.38, max:5.43, name:'Log2 fold-change', nameLocation:'middle', nameGap:52, nameMoveOverlap:false,
     nameTextStyle:{fontSize:33.5, fontFamily:FONT, color:'#2a2a2a', padding:[0,0,0,10]},
     axisLine:{show:false, onZero:false}, splitLine:{show:false},
     axisTick:{show:true, length:14, customValues:[-4,-2,0,2,4], lineStyle:{color:'#666', width:2.5}},
     axisLabel:{fontSize:33, fontFamily:FONT, color:'#2a2a2a', margin:15, customValues:[-4,-2,0,2,4], formatter:minusFmt}},
    barC.x, barD.x,
    {type:'value', gridIndex:3, min:0, max:1913, show:false}
  ],
  yAxis:[
    {type:'value', gridIndex:0, min:-0.47, max:12.48, name:'\u2212Log10 P-value', nameLocation:'middle', nameGap:71, nameRotate:90, nameMoveOverlap:false,
     nameTextStyle:{fontSize:33, fontFamily:FONT, color:'#2a2a2a'},
     axisLine:{show:false, onZero:false}, splitLine:{show:false},
     axisTick:{show:true, length:14, customValues:[0,2,4,6,8,10,12], lineStyle:{color:'#666', width:2.5}},
     axisLabel:{fontSize:33, fontFamily:FONT, color:'#2a2a2a', margin:17, customValues:[0,2,4,6,8,10,12]}},
    barC.y, barD.y,
    {type:'value', gridIndex:3, min:0, max:3290, inverse:true, show:false}
  ],
  graphic:{elements:[
    txt('A',29,41,44), txt('E',804,74,46), txt('B',238,900,46), txt('C',114,2281,46), txt('D',1117,2280,46),
    txt(vennSets[0],973,109,33), txt(vennSets[1],1561,724,33),
    txt(String(vennCounts[0]),994,400,31), txt(String(vennCounts[1]),1294,397,31), txt(String(vennCounts[2]),1606,402,31),
    txt('Log2 fold-change',588,2275,33.5)
  ]},
  series:[
    {type:'custom', name:'overplotted black mass', xAxisIndex:0, yAxisIndex:0, z:3, silent:true, data:[0], clip:true,
     renderItem:(p, api) => ({type:'polygon', shape:{points:blackMassOutline.map(q => api.coord(q))}, style:{fill:'#000'}})},
    {type:'scatter', name:'not significant', xAxisIndex:0, yAxisIndex:0, z:3, symbolSize:7, itemStyle:{color:'#000'}, data:blackPoints, silent:true},
    {type:'scatter', name:'up', xAxisIndex:0, yAxisIndex:0, z:4, symbolSize:7, itemStyle:{color:'#EE1C1C'}, data:redPoints, silent:true},
    {type:'scatter', name:'down', xAxisIndex:0, yAxisIndex:0, z:4, symbolSize:7, itemStyle:{color:'#1414E6'}, data:bluePoints, silent:true,
     markLine:{silent:true, symbol:'none', label:{show:false}, animation:false,
       lineStyle:{color:'#666', type:[9,6], width:2.5},
       data:[{xAxis:-foldCut},{xAxis:foldCut},{yAxis:pCut}]}},
    {type:'bar', name:'MCC', xAxisIndex:1, yAxisIndex:1, data:mccScores, barWidth:31, silent:true,
     itemStyle:{color:'#F83B3B', borderColor:'#5a4040', borderWidth:1.8}},
    {type:'bar', name:'Degree', xAxisIndex:2, yAxisIndex:2, data:degreeScores, barWidth:31, silent:true,
     itemStyle:{color:'#064A60'}},
    {type:'graph', name:'PPI network', coordinateSystem:'cartesian2d', xAxisIndex:3, yAxisIndex:3, layout:'none',
     symbol:ELLIPSE, symbolSize:[50,34], silent:true, roam:false, z:5,
     data:graphNodes, links:graphLinks,
     lineStyle:{color:'#ACACAC', width:2.4, opacity:1, curveness:0},
     label:{show:true, position:'inside', fontSize:21, fontFamily:FONT, color:'#1d1d1d'},
     labelLayout:{hideOverlap:false}},
    {type:'custom', name:'Venn', xAxisIndex:3, yAxisIndex:3, z:2, silent:true,
     data:[[1165.6,415,318.7,298.5,0],[1439,415,319,298.5,1]],
     renderItem:(p, api) => {
       const c = api.coord([api.value(0), api.value(1)]);
       const s = api.size([api.value(2), api.value(3)]);
       const i = api.value(4);
       return {type:'ellipse', shape:{cx:c[0], cy:c[1], rx:s[0], ry:s[1]},
         style:{fill: i ? 'rgba(207,11,15,0.48)' : 'rgba(15,47,172,0.48)',
                stroke: i ? 'rgba(215,60,65,0.65)' : 'rgba(60,80,190,0.55)', lineWidth:3}};
     }}
  ]
};
const chart = echarts.init(document.getElementById('c'), null, {renderer:'canvas', width:1913, height:3290});
chart.setOption(option);
</script></body></html>
